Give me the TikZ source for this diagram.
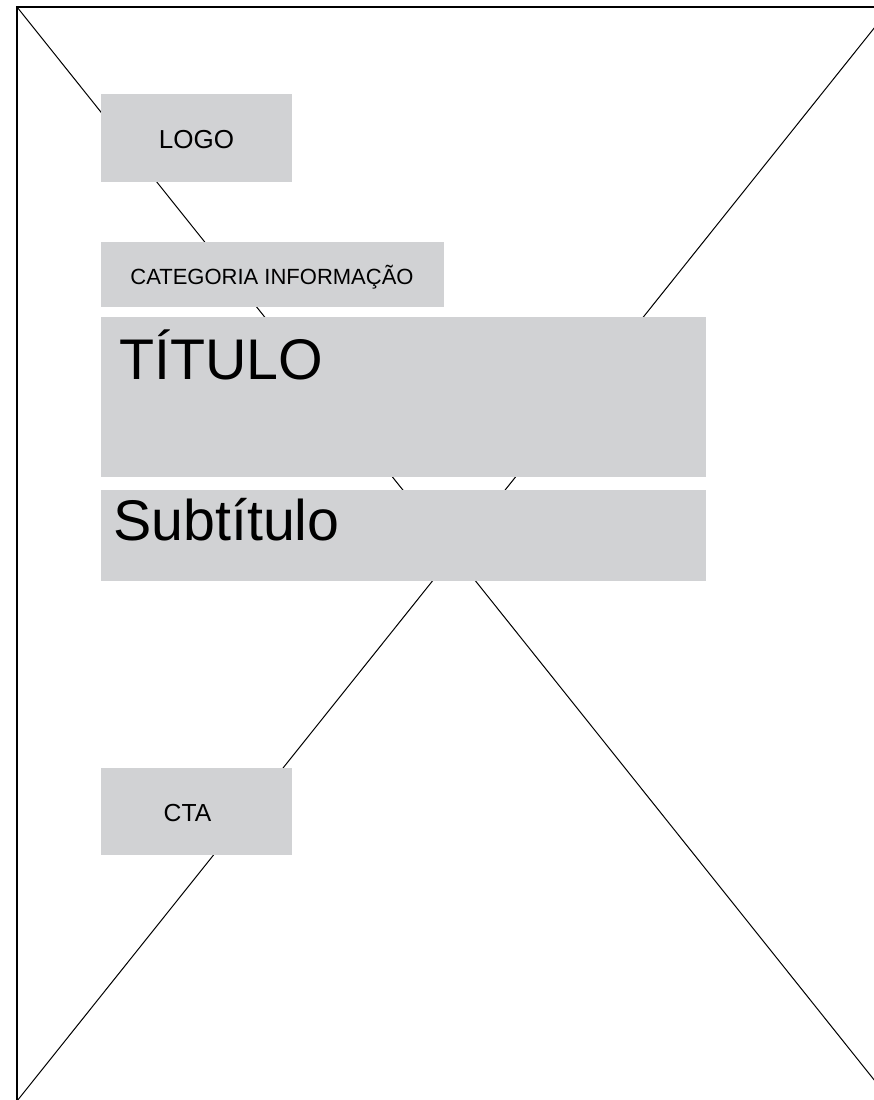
\documentclass[tikz,border=0pt]{standalone}
\usepackage{fontspec}
\setmainfont{Liberation Sans}
\usetikzlibrary{positioning}
\definecolor{cinzabloco}{RGB}{209,210,212}

\begin{document}
\begin{tikzpicture}[x=0.75pt,y=-0.75pt,
	bloco/.style={fill=cinzabloco},
	rotulo/.style={inner sep=0pt,anchor=base,text=black},
	titulo/.style={inner sep=0pt,anchor=base west,text=black,font=\fontsize{43}{50}\selectfont}]
	\useasboundingbox (0,0) rectangle (874,1100);
	\clip (0,0) rectangle (874,1100);
	% moldura com a cruz
	\coordinate (no) at (17,7);
	\coordinate (ne) at (891,7);
	\coordinate (so) at (17,1101);
	\coordinate (se) at (891,1101);
	\draw [line width=1.6pt] (no) rectangle (se);
	\draw [line width=0.75pt] (no) -- (se);
	\draw [line width=0.75pt] (so) -- (ne);
	% blocos
	\fill [bloco] (101,94) rectangle (292,182);
	\fill [bloco] (101,242) rectangle (444,307);
	\fill [bloco] (101,317) rectangle (706,477);
	\fill [bloco] (101,490) rectangle (706,581);
	\fill [bloco] (101,768) rectangle (292,855);
	% textos
	\node [rotulo,font=\fontsize{19.5}{22}\selectfont] (logo) at (196.5,148) {LOGO};
	\node [rotulo,font=\fontsize{16.5}{19}\selectfont] (categoria) at (272,284) {CATEGORIA INFORMAÇÃO};
	\node [titulo] (titulo) at (119,379) {TÍTULO};
	\node [titulo] (subtitulo) at (113,540) {Subtítulo};
	\node [rotulo,font=\fontsize{18.5}{22}\selectfont] (cta) at (187.5,821) {CTA};
\end{tikzpicture}
\end{document}
